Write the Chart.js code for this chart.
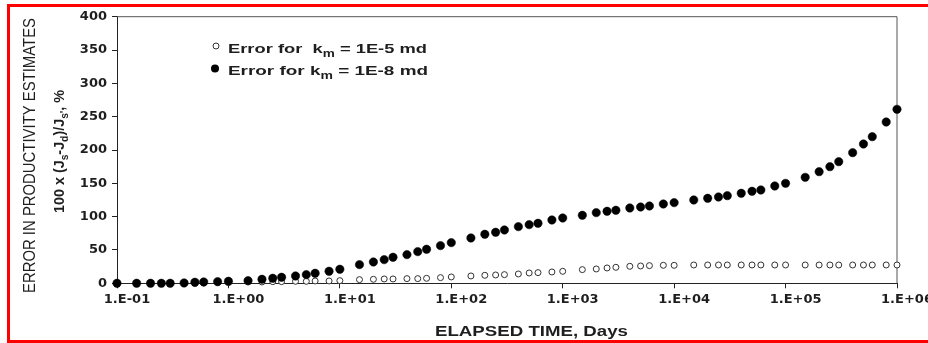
<!DOCTYPE html>
<html>
<head>
<meta charset="utf-8">
<script src="https://cdn.jsdelivr.net/npm/chart.js@4/dist/chart.umd.min.js"></script>
<style>
  html, body { margin: 0; padding: 0; background: #fff; }
  canvas { display: block; }
</style>
</head>
<body>
<canvas id="errChart" width="928" height="343"></canvas>
<script>
// elapsed time, days
const times = [
  0.1, 0.15, 0.2, 0.25, 0.3, 0.4, 0.5, 0.6, 0.8,
  1, 1.5, 2, 2.5, 3, 4, 5, 6, 8,
  10, 15, 20, 25, 30, 40, 50, 60, 80,
  100, 150, 200, 250, 300, 400, 500, 600, 800,
  1000, 1500, 2000, 2500, 3000, 4000, 5000, 6000, 8000,
  10000, 15000, 20000, 25000, 30000, 40000, 50000, 60000, 80000,
  100000, 150000, 200000, 250000, 300000, 400000, 500000, 600000, 800000,
  1000000
];

// error, % (filled circles, km = 1E-8 md)
const errorKm8 = [
  0, 0, 0, 0, 0, 0.5, 1.5, 2, 2.5,
  3, 4, 6, 7.5, 9, 11, 13, 15, 18,
  21, 28, 32, 35.5, 39, 43, 47.5, 51, 56.5,
  61, 68, 73.5, 76.5, 80, 85, 88, 90, 95,
  98, 102, 106, 108, 109.5, 113, 114.5, 116, 119,
  121, 125, 127.5, 129.5, 131.5, 135, 138, 140, 146,
  150, 159, 167.5, 175, 182.5, 196, 209, 220, 242,
  261
];

// error, % (open circles, km = 1E-5 md)
const errorKm5 = [
  0, 0, 0, 0, 0, 0, 0, 0.5, 1,
  1.5, 2, 2, 2.5, 2.5, 3, 3, 3.5, 3.5,
  4, 5.5, 6, 6.5, 6.5, 7, 7, 7.5, 8.5,
  9.5, 11, 12, 12.5, 13, 14, 15.5, 16, 17,
  18, 20.5, 21.5, 23, 24, 25.5, 26, 26.5, 27,
  27, 27.5, 27.5, 27.5, 27.5, 27.5, 27.5, 27.5, 27.5,
  27.5, 27.5, 27.5, 27.5, 27.5, 27.5, 27.5, 27.5, 27.5,
  27.5
];

const xTickValues = [0.1, 1, 10, 100, 1000, 10000, 100000, 1000000];
const xTickLabels = ['1.E-01', '1.E+00', '1.E+01', '1.E+02', '1.E+03', '1.E+04', '1.E+05', '1.E+06'];

const tickFont = { family: 'DejaVu Sans', size: 13, weight: 'bold' };
const textColor = '#1e1e1e';

// draw text with subscripts, optionally rotated and stretched to a width
function drawRich(ctx, parts, o) {
  const fontFor = (sub) => o.weight + ' ' + (sub ? Math.round(o.size * 0.72) : o.size) + 'px ' + o.family;
  ctx.save();
  ctx.translate(o.x, o.y);
  if (o.rotate) ctx.rotate(-Math.PI / 2);
  let total = 0;
  parts.forEach((p) => { ctx.font = fontFor(p.sub); total += ctx.measureText(p.t).width; });
  ctx.scale(o.width ? o.width / total : 1, 1);
  ctx.textAlign = 'left';
  ctx.textBaseline = 'alphabetic';
  ctx.fillStyle = textColor;
  let cx = 0;
  parts.forEach((p) => {
    ctx.font = fontFor(p.sub);
    ctx.fillText(p.t, cx, p.sub ? o.size * 0.3 : 0);
    cx += ctx.measureText(p.t).width;
  });
  ctx.restore();
}

const decorations = {
  id: 'decorations',
  beforeDraw(chart) {
    const ctx = chart.ctx;
    ctx.save();
    ctx.fillStyle = '#fff';
    ctx.fillRect(0, 0, chart.width, chart.height);
    ctx.restore();
  },
  beforeDatasetsDraw(chart) {
    // top and right frame lines of the plot box
    const { ctx, chartArea: a } = chart;
    ctx.save();
    ctx.strokeStyle = '#555';
    ctx.lineWidth = 1;
    ctx.beginPath();
    ctx.moveTo(a.left, a.top);
    ctx.lineTo(a.right, a.top);
    ctx.lineTo(a.right, a.bottom);
    ctx.stroke();
    ctx.restore();
  },
  afterDraw(chart) {
    const ctx = chart.ctx;
    const lab = { family: 'Liberation Sans', weight: 'bold', size: 13.5 };

    // legend
    ctx.save();
    ctx.lineWidth = 1;
    ctx.strokeStyle = '#333';
    ctx.fillStyle = '#fff';
    ctx.beginPath(); ctx.arc(216, 46, 3, 0, Math.PI * 2); ctx.fill(); ctx.stroke();
    ctx.fillStyle = '#000';
    ctx.beginPath(); ctx.arc(215, 68.5, 4, 0, Math.PI * 2); ctx.fill();
    ctx.restore();
    drawRich(ctx, [{ t: 'Error for  k' }, { t: 'm', sub: true }, { t: ' = 1E-5 md' }],
      Object.assign({ x: 228, y: 52.5, width: 199 }, lab));
    drawRich(ctx, [{ t: 'Error for k' }, { t: 'm', sub: true }, { t: ' = 1E-8 md' }],
      Object.assign({ x: 228, y: 75, width: 200 }, lab));

    // x axis title
    drawRich(ctx, [{ t: 'ELAPSED TIME, Days' }],
      { family: 'Liberation Sans', weight: 'bold', size: 15, x: 435, y: 335.5, width: 193 });

    // y axis titles
    drawRich(ctx, [{ t: 'ERROR IN PRODUCTIVITY ESTIMATES' }],
      { family: 'Liberation Sans', weight: 'normal', size: 17, x: 35, y: 293, width: 275, rotate: true });
    drawRich(ctx, [
      { t: '100 x (J' }, { t: 's', sub: true }, { t: '-J' }, { t: 'd', sub: true },
      { t: ')/J' }, { t: "s'", sub: true }, { t: ', %' }
    ], { family: 'Liberation Sans', weight: 'bold', size: 14, x: 64, y: 213, width: 123, rotate: true });

    // red outline (right side falls outside the picture)
    ctx.save();
    ctx.fillStyle = '#ff0000';
    ctx.fillRect(7, 4, 3, 339);
    ctx.fillRect(7, 4, 921, 3);
    ctx.fillRect(7, 340, 921, 3);
    ctx.restore();
  }
};

const ctx = document.getElementById('errChart').getContext('2d');
new Chart(ctx, {
  type: 'scatter',
  data: {
    datasets: [
      {
        label: 'Error for km = 1E-8 md',
        data: times.map((t, i) => ({ x: t, y: errorKm8[i] })),
        pointStyle: 'circle',
        pointRadius: 4.2,
        pointBackgroundColor: '#000',
        pointBorderColor: '#000',
        pointBorderWidth: 0.5,
        clip: false
      },
      {
        label: 'Error for km = 1E-5 md',
        data: times.map((t, i) => ({ x: t, y: errorKm5[i] })),
        pointStyle: 'circle',
        pointRadius: 3,
        pointBackgroundColor: '#fff',
        pointBorderColor: '#333',
        pointBorderWidth: 1,
        clip: false
      }
    ]
  },
  options: {
    responsive: false,
    animation: false,
    devicePixelRatio: 1,
    layout: { padding: { left: 0, right: 31, top: 16.7, bottom: 0 } },
    plugins: { legend: { display: false }, tooltip: { enabled: false } },
    scales: {
      x: {
        type: 'logarithmic',
        min: 0.1,
        max: 1000000,
        afterBuildTicks: (s) => { s.ticks = xTickValues.map((v) => ({ value: v })); },
        afterFit: (s) => { s.height = 59.7; },
        ticks: {
          autoSkip: false,
          maxRotation: 0,
          labelOffset: 10,
          padding: 4,
          color: textColor,
          font: tickFont,
          callback: (v) => xTickLabels[xTickValues.indexOf(v)]
        },
        grid: { drawOnChartArea: false, tickLength: 5, color: '#222' },
        border: { color: '#222', width: 1 }
      },
      y: {
        min: 0,
        max: 400,
        afterFit: (s) => { s.width = 117; },
        ticks: { stepSize: 50, padding: 5, color: textColor, font: tickFont },
        grid: { drawOnChartArea: false, tickLength: 5, color: '#222' },
        border: { color: '#222', width: 1 }
      }
    }
  },
  plugins: [decorations]
});
</script>
</body>
</html>
